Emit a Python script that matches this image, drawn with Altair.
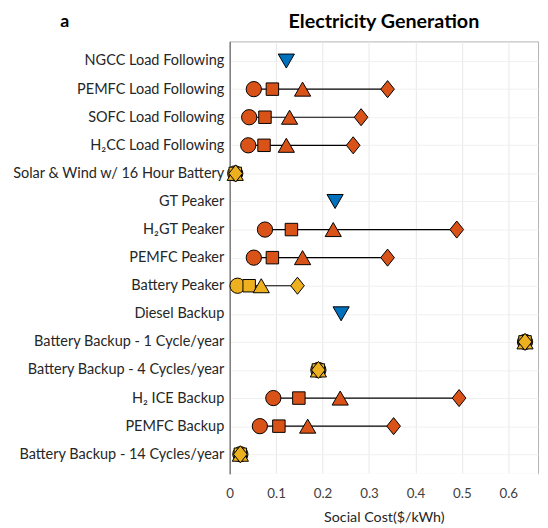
import altair as alt
import pandas as pd

categories = [
    "NGCC Load Following",
    "PEMFC Load Following",
    "SOFC Load Following",
    "H\u2082CC  Load Following",
    "Solar & Wind w/ 16 Hour Battery",
    "GT Peaker",
    "H\u2082GT Peaker",
    "PEMFC Peaker",
    "Battery Peaker",
    "Diesel Backup",
    "Battery Backup - 1 Cycle/year",
    "Battery Backup - 4 Cycles/year",
    "H\u2082 ICE Backup",
    "PEMFC Backup",
    "Battery Backup - 14 Cycles/year",
]
group = ["fossil", "H2", "H2", "H2", "battery", "fossil", "H2", "H2", "battery",
         "fossil", "battery", "battery", "H2", "H2", "battery"]
circle_vals = [None, 0.052, 0.042, 0.040, 0.012, None, 0.076, 0.052, 0.017,
               None, 0.636, 0.191, 0.094, 0.065, 0.023]
square_vals = [None, 0.092, 0.076, 0.074, 0.012, None, 0.133, 0.092, 0.042,
               None, 0.636, 0.191, 0.149, 0.106, 0.023]
triangle_vals = [None, 0.157, 0.129, 0.122, 0.012, None, 0.223, 0.157, 0.068,
                 None, 0.636, 0.191, 0.238, 0.168, 0.023]
diamond_vals = [None, 0.340, 0.283, 0.266, 0.013, None, 0.489, 0.340, 0.146,
                None, 0.636, 0.191, 0.494, 0.353, 0.023]
fossil_vals = [0.122, None, None, None, None, 0.227, None, None, None,
               0.240, None, None, None, None, None]
x_ticks = [0, 0.1, 0.2, 0.3, 0.4, 0.5, 0.6]

FONT = "Lato, 'Noto Sans', 'DejaVu Sans', sans-serif"

wide = pd.DataFrame({
    "category": categories, "group": group,
    "lo": circle_vals, "hi": diamond_vals,
})
wide = wide.dropna(subset=["lo"])

rows = []
for name, vals in [("circle", circle_vals), ("square", square_vals),
                   ("triangle", triangle_vals), ("diamond", diamond_vals),
                   ("fossil", fossil_vals)]:
    for c, g, v in zip(categories, group, vals):
        if v is not None:
            rows.append({"category": c, "group": g, "marker": name, "value": v})
long = pd.DataFrame(rows)

color_scale = alt.Scale(domain=["H2", "battery", "fossil"],
                        range=["#D95319", "#EDB120", "#0072BD"])

x_enc = alt.X(
    "value:Q",
    scale=alt.Scale(domain=[0, 0.664], nice=False, zero=True),
    axis=alt.Axis(
        title="Social Cost($/kWh)", values=x_ticks, format="~g",
        labelFont=FONT, labelFontSize=13.5, labelColor="#404040", labelPadding=13,
        titleFont=FONT, titleFontSize=14.5, titleColor="#262626",
        titleFontWeight="normal", titlePadding=11,
        ticks=False, domainColor="white", domainWidth=2,
        grid=True, gridColor="#e8e8e8", labelFlush=False,
    ),
)
y_enc = alt.Y(
    "category:N", sort=categories,
    scale=alt.Scale(type="point", padding=0.7),
    axis=alt.Axis(
        title="a", titleAngle=0, titleX=-168, titleY=-20, titleAlign="center",
        titleBaseline="middle", titleFont=FONT, titleFontSize=18,
        titleFontWeight="bold", titleColor="black",
        labelFont=FONT, labelFontSize=14.7, labelColor="#262626", labelPadding=6,
        labelLimit=0,
        ticks=False, domainColor="#4d4d4d", domainWidth=1,
        grid=True, gridColor="#f0f0f0",
    ),
)

base = alt.Chart(long)

rule = alt.Chart(wide).mark_rule(color="black", strokeWidth=1.2).encode(
    x=alt.X("lo:Q", scale=alt.Scale(domain=[0, 0.664], nice=False)),
    x2="hi:Q",
    y=alt.Y("category:N", sort=categories),
)

diamond_path = "M-0.8,0L0,-1L0.8,0L0,1Z"

def pts(marker, shape, size):
    return base.transform_filter(alt.datum.marker == marker).mark_point(
        shape=shape, size=size, filled=True, stroke="black", strokeWidth=1,
        opacity=1,
    ).encode(
        x=x_enc, y=y_enc,
        color=alt.Color("group:N", scale=color_scale, legend=None),
    )

chart = alt.layer(
    rule,
    pts("circle", "circle", 240),
    pts("square", "square", 160),
    pts("triangle", "triangle-up", 270),
    pts("diamond", diamond_path, 300),
    pts("fossil", "triangle-down", 270),
).properties(
    width=313, height=439,
    padding={"left": 225, "top": 30, "right": 2, "bottom": 50},
    autosize=alt.AutoSizeParams(type="none"),
    title=alt.Title("Electricity Generation", font=FONT, fontSize=20,
                    fontWeight="bold", color="black", anchor="middle",
                    frame="group", baseline="alphabetic", offset=0, dy=35),
).configure_view(stroke="#b3b3b3", strokeWidth=1)

chart.save("out.html", embed_options={"renderer": "svg", "actions": False})
